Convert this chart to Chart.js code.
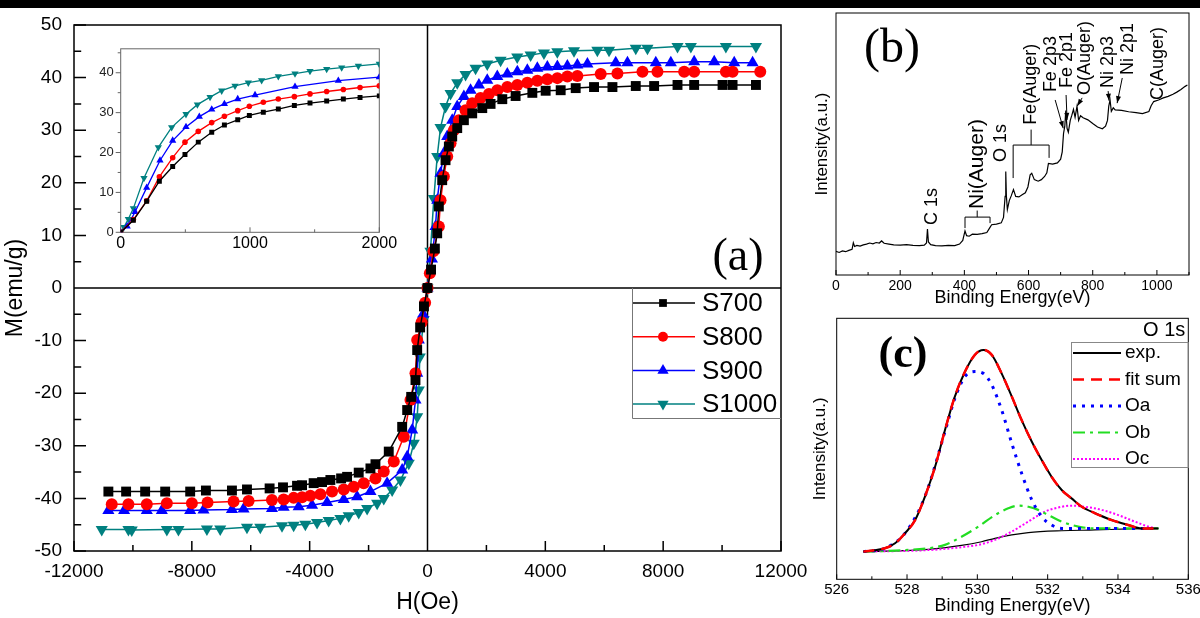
<!DOCTYPE html>
<html>
<head>
<meta charset="utf-8">
<title>Hysteresis loops and XPS spectra</title>
<script src="https://cdn.jsdelivr.net/npm/chart.js@4.4.1/dist/chart.umd.min.js"></script>
<style>
  html, body { margin: 0; padding: 0; background: #fff; width: 1200px; height: 618px; overflow: hidden; }
  canvas { position: absolute; }
  #topbar { position: absolute; left: 0; top: 0; width: 1200px; height: 8px; background: #000; }
</style>
</head>
<body>
<canvas id="loopChart" width="830" height="618" style="left:0;top:0"></canvas>
<canvas id="insetChart" width="330" height="222" style="left:90px;top:34px"></canvas>
<canvas id="surveyChart" width="420" height="310" style="left:795px;top:0"></canvas>
<canvas id="o1sChart" width="420" height="308" style="left:795px;top:310px"></canvas>
<div id="topbar"></div>
<script>
// ---- (a) M-H loops ----
const sampleNames = ['S700', 'S800', 'S900', 'S1000'];
const sampleColors = ['#000000', '#ff0000', '#0000ff', '#008080'];
const sampleMarkers = ['rect', 'circle', 'triangle', 'triangle'];
const markerTurn = [0, 0, 0, 180];

const s700H = [-10833, -10231, -9585, -8905, -8056, -7522, -6638, -6128, -5360, -4905, -4429, -4259, -3865, -3579, -3297, -2933, -2729, -2335, -1937, -1767, -1315, -860, -690, -554, -408, -350, -250, -120, 0, 120, 250, 329, 385, 499, 612, 725, 839, 1009, 1235, 1518, 1859, 2141, 2539, 2991, 3559, 4011, 4521, 5031, 5653, 6278, 7070, 7693, 8487, 9052, 10016, 10356, 11149];
const s700M = [-38.7, -38.7, -38.7, -38.7, -38.7, -38.5, -38.5, -38.3, -38.1, -37.9, -37.6, -37.5, -37.1, -36.9, -36.5, -36.2, -35.9, -35.1, -34.3, -33.5, -31.1, -26.4, -23.2, -20.7, -17.5, -11.8, -7.5, -3.5, 0, 3.5, 7.5, 10.4, 15.5, 20.5, 24.3, 26.9, 28.8, 30.4, 31.9, 33.2, 34.2, 35.0, 35.9, 36.5, 37.1, 37.5, 37.6, 38.0, 38.2, 38.2, 38.4, 38.4, 38.6, 38.6, 38.6, 38.6, 38.6];

const s800H = [-10718, -10153, -9529, -8848, -7998, -7467, -6583, -6073, -5280, -4884, -4544, -4260, -3977, -3637, -3240, -2844, -2505, -2165, -1767, -1485, -1145, -805, -578, -408, -350, -200, -80, 0, 80, 200, 385, 442, 555, 669, 782, 895, 1065, 1292, 1518, 1801, 2085, 2369, 2709, 3049, 3389, 3728, 4068, 4408, 4748, 5087, 5880, 6447, 7297, 7806, 8713, 9052, 10129, 10356, 11296];
const s800M = [-41.1, -41.1, -41.1, -40.9, -40.9, -40.8, -40.6, -40.5, -40.3, -40.2, -39.9, -39.8, -39.5, -39.2, -38.7, -38.3, -37.8, -37.1, -36.2, -34.9, -33.0, -28.3, -21.3, -16.2, -9.9, -6.5, -2.8, 0, 2.8, 7.0, 11.7, 16.7, 21.2, 25.0, 27.5, 30.0, 31.9, 33.8, 35.1, 36.1, 36.9, 37.6, 38.2, 38.6, 39.0, 39.4, 39.7, 39.9, 40.2, 40.3, 40.7, 40.8, 41.1, 41.1, 41.1, 41.1, 41.1, 41.1, 41.1];

const s900H = [-10833, -10299, -9529, -9018, -8056, -7604, -6638, -6244, -5280, -4884, -4374, -3919, -3409, -2844, -2390, -1937, -1370, -860, -690, -520, -408, -350, -295, -150, 0, 150, 272, 329, 442, 555, 669, 839, 1009, 1235, 1462, 1745, 2028, 2369, 2709, 3049, 3389, 3728, 4068, 4408, 4748, 5087, 5428, 6390, 6788, 7750, 8260, 9052, 9733, 10412, 11036];
const s900M = [-42.3, -42.3, -42.3, -42.3, -42.3, -42.2, -42.1, -42.0, -41.9, -41.7, -41.6, -41.3, -40.8, -40.2, -39.7, -38.7, -37.1, -34.6, -32.1, -27.0, -21.3, -16.2, -9.9, -5.0, 0, 5.5, 11.7, 16.7, 21.8, 25.6, 28.8, 31.9, 34.5, 36.4, 37.6, 38.6, 39.5, 40.2, 40.7, 41.1, 41.4, 41.8, 42.0, 42.1, 42.2, 42.4, 42.6, 42.8, 42.8, 42.8, 42.8, 43.0, 43.0, 42.8, 42.8];

const s1000H = [-11058, -10153, -10040, -8848, -8454, -7488, -7036, -6128, -5676, -4939, -4544, -4147, -3749, -3355, -2957, -2675, -2335, -2050, -1710, -1485, -1200, -918, -636, -466, -350, -295, -262, -130, 0, 100, 215, 329, 442, 612, 782, 1009, 1292, 1632, 2028, 2481, 3046, 3500, 3953, 4406, 4973, 5766, 6163, 7070, 7467, 8487, 8940, 10129, 11149];
const s1000M = [-45.9, -45.9, -46.0, -45.9, -45.9, -45.8, -45.8, -45.5, -45.5, -45.2, -45.1, -44.9, -44.6, -44.2, -43.8, -43.3, -42.7, -41.9, -40.9, -40.0, -38.4, -36.5, -33.3, -29.5, -24.5, -19.4, -13.1, -6.0, 0, 7.0, 17.0, 25.0, 30.5, 34.5, 37.0, 39.0, 40.6, 41.8, 42.6, 43.3, 43.9, 44.3, 44.7, 44.9, 45.1, 45.2, 45.2, 45.6, 45.6, 45.9, 45.9, 45.9, 45.9];

// inset: low-field part, 0..2000 Oe
const insetS700H = [0, 98, 201, 299, 402, 497, 600, 704, 802, 905, 995, 1103, 1219, 1343, 1464, 1593, 1722, 1851, 2000];
const insetS700M = [0, 3.0, 7.8, 12.8, 16.5, 19.5, 22.6, 25.1, 26.9, 28.2, 29.3, 30.1, 30.9, 31.8, 32.4, 32.9, 33.4, 33.8, 34.2];
const insetS800H = [0, 98, 201, 299, 402, 497, 600, 704, 802, 905, 995, 1103, 1219, 1343, 1464, 1593, 1722, 1851, 2000];
const insetS800M = [0, 3.2, 7.9, 13.9, 18.7, 22.6, 25.3, 27.5, 29.1, 30.5, 31.6, 32.6, 33.4, 34.0, 34.7, 35.3, 35.8, 36.3, 36.7];
const insetS900H = [0, 50, 111, 201, 304, 402, 505, 608, 704, 802, 905, 1039, 1348, 1683, 2000];
const insetS900M = [0, 1.5, 5.1, 11.2, 18.0, 23.0, 26.4, 29.0, 30.8, 32.2, 33.4, 34.4, 36.5, 38.0, 38.9];
const insetS1000H = [0, 25, 59, 98, 180, 291, 394, 505, 593, 691, 781, 884, 987, 1090, 1219, 1348, 1464, 1593, 1709, 1838, 2000];
const insetS1000M = [0, 1.3, 3.3, 6.0, 13.6, 21.3, 26.3, 29.6, 32.0, 33.9, 35.5, 36.7, 37.5, 38.1, 39.1, 39.8, 40.4, 40.9, 41.3, 41.7, 42.2];

// ---- (b) XPS survey ----
const surveyEV = [0, 10, 20, 30, 40, 50, 54, 58, 65, 75, 85, 95, 105, 115, 125, 135, 142, 150, 165, 180, 200, 220, 240, 260, 275, 282, 285, 288, 295, 310, 330, 350, 370, 385, 395, 402, 407, 415, 425, 440, 455, 470, 478, 485, 500, 515, 522, 527, 529, 531, 534, 540, 546, 553, 560, 570, 580, 590, 598, 605, 610, 618, 630, 640, 650, 657, 662, 675, 690, 700, 705, 709, 713, 716, 720, 724, 730, 735, 740, 745, 751, 756, 762, 770, 785, 800, 815, 830, 840, 846, 850, 854, 858, 864, 870, 890, 912, 935, 955, 975, 982, 990, 1005, 1020, 1035, 1050, 1062, 1075, 1088, 1095];
const surveyCounts = [9.0, 8.6, 9.2, 8.9, 9.4, 9.8, 12.3, 10.9, 11.3, 11.0, 11.5, 11.8, 12.2, 11.9, 12.4, 12.2, 13.0, 12.1, 11.8, 11.5, 11.4, 11.6, 11.3, 11.2, 11.4, 12.2, 17.5, 12.6, 11.6, 11.2, 11.1, 11.3, 11.2, 11.8, 13.2, 16.8, 15.0, 14.8, 15.6, 15.5, 15.8, 16.2, 17.8, 19.2, 19.4, 19.9, 22.0, 30.0, 39.5, 30.0, 25.0, 28.4, 30.2, 32.6, 30.0, 29.8, 30.6, 31.4, 33.6, 38.2, 38.8, 36.4, 35.8, 36.4, 37.6, 39.0, 42.6, 42.3, 42.8, 44.2, 47.0, 54.0, 56.8, 62.8, 56.0, 54.5, 59.0, 61.0, 63.2, 60.2, 64.4, 59.0, 60.8, 60.0, 59.2, 57.8, 56.5, 55.8, 56.8, 59.0, 64.5, 66.8, 62.5, 63.8, 63.0, 62.8, 62.3, 62.0, 61.6, 62.4, 64.6, 66.2, 66.8, 67.6, 68.2, 69.0, 69.8, 70.8, 72.0, 72.5];

const peakNames = ['C 1s', 'Ni(Auger)', 'O 1s', 'Fe(Auger)', 'Fe 2p3', 'Fe 2p1', 'O(Auger)', 'Ni 2p3', 'Ni 2p1', 'C(Auger)'];
const peakNameEV = [299, 440, 514, 608, 670, 720, 776, 848, 910, 1004];
const peakNameBase = [19.1, 25.2, 43.1, 57.3, 69.8, 71.4, 68.7, 71.4, 76.3, 66.8];
const arrowFromEV = [683, 717, 767, 848, 892];
const arrowFromI = [66.8, 68.7, 67.6, 70.2, 75.2];
const arrowToEV = [708, 720, 752, 851, 876];
const arrowToI = [56.0, 59.2, 64.5, 66.5, 65.6];
const augerFromEV = [402, 552];
const augerToEV = [480, 664];
const augerBar = [22.1, 49.6];
const augerLeftFoot = [17.9, 37.0];
const augerRightFoot = [19.8, 44.7];
const augerStemEV = [440, 608];
const augerStemTop = [24.6, 55.5];

// ---- (c) O 1s fit ----
const o1sNames = ['exp.', 'fit sum', 'Oa', 'Ob', 'Oc'];
const expEV = [526.76, 527.37, 527.66, 527.94, 528.23, 528.51, 528.80, 529.08, 529.36, 529.65, 529.93, 530.17, 530.41, 530.69, 530.98, 531.26, 531.55, 531.83, 532.11, 532.40, 532.68, 532.97, 533.35, 533.82, 534.29, 534.67, 535.15];
const expI = [10.6, 11.9, 13.8, 17.6, 22.7, 31.7, 43.2, 57.2, 70.0, 79.6, 86.0, 87.9, 86.0, 78.9, 70.0, 61.0, 52.7, 45.7, 39.3, 34.2, 31.0, 27.8, 25.3, 22.7, 20.8, 19.5, 19.5];
const fitI = [10.6, 11.9, 13.8, 17.6, 22.7, 31.7, 43.2, 57.2, 70.0, 79.6, 86.0, 87.9, 86.0, 78.9, 70.0, 61.0, 52.7, 45.7, 39.3, 34.2, 31.0, 27.8, 25.3, 22.7, 20.8, 19.5, 19.5];
const oaEV = [526.76, 527.37, 527.94, 528.51, 529.08, 529.36, 529.65, 529.93, 530.17, 530.41, 530.69, 530.98, 531.26, 531.55, 531.83, 532.11, 532.40, 532.87, 533.82, 535.15];
const oaI = [10.6, 11.9, 17.6, 31.7, 56.6, 69.3, 77.7, 79.6, 78.9, 74.5, 64.9, 52.1, 40.6, 30.4, 24.0, 20.8, 19.5, 19.5, 19.5, 19.5];
const obEV = [526.76, 527.66, 528.61, 529.08, 529.55, 530.03, 530.50, 530.88, 531.17, 531.45, 531.73, 532.02, 532.40, 532.87, 533.35, 535.15];
const obI = [10.6, 11.0, 11.9, 13.2, 16.3, 20.2, 24.6, 27.2, 28.2, 27.8, 26.6, 24.6, 22.1, 20.2, 19.5, 19.5];
const ocEV = [526.76, 528.61, 529.55, 530.03, 530.50, 530.98, 531.45, 531.92, 532.40, 532.68, 533.06, 533.54, 534.01, 534.48, 534.86, 535.15];
const ocI = [10.6, 11.2, 12.3, 13.2, 15.1, 18.3, 22.1, 25.9, 27.8, 28.2, 27.8, 26.6, 24.6, 22.1, 20.2, 19.5];
const bgEV = [526.76, 528.61, 529.55, 530.12, 530.50, 530.98, 531.45, 532.40, 533.35, 534.29, 535.15];
const bgI = [10.6, 11.5, 13.0, 14.4, 15.7, 17.0, 17.9, 18.6, 18.9, 19.3, 19.5];

const SANS = "'Liberation Sans', Arial, Helvetica, sans-serif";
const SERIF = "'Liberation Serif', 'Times New Roman', serif";
Chart.defaults.font.family = SANS;
Chart.defaults.color = '#000';

function pts(xs, ys) {
    return xs.map((x, i) => ({ x: x, y: ys[i] }));
}
const plain = v => String(v);

function marker(ctx, style, radius, rotation, x, y) {
    if (Chart.helpers && Chart.helpers.drawPoint) {
        Chart.helpers.drawPoint(ctx, { pointStyle: style, radius: radius, rotation: rotation, borderWidth: 0 }, x, y);
    } else {
        ctx.beginPath();
        ctx.arc(x, y, radius, 0, Math.PI * 2);
        ctx.fill();
    }
}

// box + inward/outward tick marks + optional zero lines, drawn under the data
const framePlugin = {
    id: 'frame',
    beforeDatasetsDraw(chart, args, o) {
        const { ctx, chartArea: a } = chart;
        const xs = chart.scales.x, ys = chart.scales.y;
        ctx.save();
        ctx.strokeStyle = o.color;
        ctx.lineWidth = o.lineWidth;
        ctx.beginPath();
        if (o.zeroLines) {
            const x0 = xs.getPixelForValue(0), y0 = ys.getPixelForValue(0);
            ctx.moveTo(a.left, y0); ctx.lineTo(a.right, y0);
            ctx.moveTo(x0, a.top); ctx.lineTo(x0, a.bottom);
        }
        const marks = (scale, t, horizontal) => {
            const n = Math.round((scale.max - scale.min) / t.minor);
            for (let i = 0; i <= n; i++) {
                const v = scale.min + i * t.minor;
                const isMajor = Math.abs(v / t.major - Math.round(v / t.major)) < 1e-6;
                const len = isMajor ? t.len : t.len * 0.6;
                const p = scale.getPixelForValue(v);
                if (horizontal) { ctx.moveTo(p, a.bottom); ctx.lineTo(p, a.bottom - len * t.dir); }
                else { ctx.moveTo(a.left, p); ctx.lineTo(a.left + len * t.dir, p); }
            }
        };
        if (o.x) marks(xs, o.x, true);
        if (o.y) marks(ys, o.y, false);
        ctx.stroke();
        ctx.strokeRect(a.left, a.top, a.right - a.left, a.bottom - a.top);
        ctx.restore();
    }
};

const baseOptions = {
    responsive: false,
    animation: false,
    events: [],
};

function xScale(min, max, step, tickFont, pad, title, titleFont, titlePad, height) {
    return {
        type: 'linear', min: min, max: max,
        grid: { display: false, drawTicks: false },
        border: { display: false },
        ticks: { stepSize: step, includeBounds: false, autoSkip: false, maxRotation: 0, padding: pad, font: { size: tickFont }, callback: plain },
        title: { display: !!title, text: title, font: { size: titleFont }, padding: { top: 0, bottom: titlePad } },
        afterFit: s => { s.height = height; }
    };
}

// ---------- (a) main loop ----------
const loopH = [s700H, s800H, s900H, s1000H];
const loopM = [s700M, s800M, s900M, s1000M];
const loopRadius = [7, 6, 7, 7];

const loopLegend = {
    id: 'loopLegend',
    afterDraw(chart) {
        const ctx = chart.ctx, a = chart.chartArea;
        const left = 632, top = 288, bottom = 418;
        ctx.save();
        ctx.strokeStyle = '#777';
        ctx.lineWidth = 1;
        ctx.beginPath();
        ctx.moveTo(left + 0.5, top); ctx.lineTo(left + 0.5, bottom + 0.5); ctx.lineTo(a.right, bottom + 0.5);
        ctx.stroke();
        chart.data.datasets.forEach((ds, i) => {
            const y = 303 + i * 33.7;
            ctx.strokeStyle = ds.borderColor;
            ctx.lineWidth = 1.5;
            ctx.beginPath(); ctx.moveTo(left + 1, y); ctx.lineTo(left + 63, y); ctx.stroke();
            ctx.fillStyle = ds.borderColor;
            marker(ctx, ds.pointStyle, [5.5, 5, 6.5, 6.5][i], ds.pointRotation, left + 31, y);
            ctx.fillStyle = '#000';
            ctx.font = '26px ' + SANS;
            ctx.textAlign = 'left';
            ctx.textBaseline = 'middle';
            ctx.fillText(ds.label, 702, y + 1);
        });
        ctx.font = '46px ' + SERIF;
        ctx.textAlign = 'center';
        ctx.fillText('(a)', 738, 258);
        ctx.restore();
    }
};

new Chart(document.getElementById('loopChart'), {
    type: 'scatter',
    data: {
        datasets: sampleNames.map((name, i) => ({
            label: name,
            data: pts(loopH[i], loopM[i]),
            showLine: true,
            borderColor: sampleColors[i],
            backgroundColor: sampleColors[i],
            borderWidth: 1.5,
            pointStyle: sampleMarkers[i],
            pointRotation: markerTurn[i],
            pointRadius: loopRadius[i],
            pointBorderWidth: 0,
            tension: 0
        }))
    },
    options: Object.assign({}, baseOptions, {
        layout: { padding: { left: 0, right: 49, top: 25, bottom: 0 } },
        plugins: {
            legend: { display: false }, tooltip: { enabled: false },
            frame: { color: '#000', lineWidth: 1.5, zeroLines: true,
                x: { minor: 2000, major: 4000, len: 10, dir: 1 },
                y: { minor: 5, major: 10, len: 12, dir: 1 } }
        },
        scales: {
            x: xScale(-12000, 12000, 4000, 19, 9, 'H(Oe)', 23, 2, 67),
            y: {
                type: 'linear', min: -50, max: 50,
                grid: { display: false, drawTicks: false },
                border: { display: false },
                ticks: { stepSize: 10, padding: 12, font: { size: 19 }, callback: plain },
                title: { display: true, text: 'M(emu/g)', font: { size: 23 }, padding: { top: 2, bottom: 0 } },
                afterFit: s => { s.width = 74; }
            }
        }
    }),
    plugins: [framePlugin, loopLegend]
});

// ---------- inset ----------
const insetH = [insetS700H, insetS800H, insetS900H, insetS1000H];
const insetM = [insetS700M, insetS800M, insetS900M, insetS1000M];
const insetRadius = [3.5, 2.8, 4.2, 4.2];

new Chart(document.getElementById('insetChart'), {
    type: 'scatter',
    data: {
        datasets: sampleNames.map((name, i) => ({
            label: name,
            data: pts(insetH[i], insetM[i]),
            showLine: true,
            borderColor: sampleColors[i],
            backgroundColor: sampleColors[i],
            borderWidth: 1.3,
            pointStyle: sampleMarkers[i],
            pointRotation: markerTurn[i],
            pointRadius: insetRadius[i],
            pointBorderWidth: 0,
            tension: 0
        }))
    },
    options: Object.assign({}, baseOptions, {
        layout: { padding: { left: 0, right: 40.7, top: 10, bottom: 0 } },
        plugins: {
            legend: { display: false }, tooltip: { enabled: false },
            frame: { color: '#666', lineWidth: 1,
                x: { minor: 500, major: 1000, len: 5, dir: 1 },
                y: { minor: 5, major: 10, len: 5, dir: -1 } }
        },
        scales: {
            x: xScale(0, 2000, 1000, 16, 2, '', 10, 0, 23.7),
            y: {
                type: 'linear', min: 0, max: 46,
                grid: { display: false, drawTicks: false },
                border: { display: false },
                ticks: { stepSize: 10, includeBounds: false, padding: 7, color: '#222', font: { size: 13 }, callback: plain },
                afterFit: s => { s.width = 30.7; }
            }
        }
    }),
    plugins: [framePlugin]
});

// ---------- (b) survey ----------
const surveyNotes = {
    id: 'surveyNotes',
    afterDatasetsDraw(chart) {
        const ctx = chart.ctx;
        const xs = chart.scales.x, ys = chart.scales.y;
        const X = v => xs.getPixelForValue(v), Y = v => ys.getPixelForValue(v);
        ctx.save();
        ctx.fillStyle = '#000';
        ctx.strokeStyle = '#000';
        ctx.lineWidth = 1;
        peakNames.forEach((name, i) => {
            ctx.save();
            ctx.translate(X(peakNameEV[i]), Y(peakNameBase[i]));
            ctx.rotate(-Math.PI / 2);
            ctx.font = (name === 'Ni(Auger)' ? 21 : 18) + 'px ' + SANS;
            ctx.textAlign = 'left';
            ctx.textBaseline = 'middle';
            ctx.fillText(name, 0, 0);
            ctx.restore();
        });
        arrowFromEV.forEach((e, i) => {
            const x1 = X(e), y1 = Y(arrowFromI[i]);
            const x2 = X(arrowToEV[i]), y2 = Y(arrowToI[i]);
            const ang = Math.atan2(y2 - y1, x2 - x1);
            ctx.beginPath(); ctx.moveTo(x1, y1); ctx.lineTo(x2, y2); ctx.stroke();
            ctx.beginPath();
            ctx.moveTo(x2, y2);
            ctx.lineTo(x2 - 7 * Math.cos(ang) + 2.5 * Math.sin(ang), y2 - 7 * Math.sin(ang) - 2.5 * Math.cos(ang));
            ctx.lineTo(x2 - 7 * Math.cos(ang) - 2.5 * Math.sin(ang), y2 - 7 * Math.sin(ang) + 2.5 * Math.cos(ang));
            ctx.closePath(); ctx.fill();
        });
        augerFromEV.forEach((e, i) => {
            ctx.beginPath();
            ctx.moveTo(X(e), Y(augerLeftFoot[i]));
            ctx.lineTo(X(e), Y(augerBar[i]));
            ctx.lineTo(X(augerToEV[i]), Y(augerBar[i]));
            ctx.lineTo(X(augerToEV[i]), Y(augerRightFoot[i]));
            ctx.moveTo(X(augerStemEV[i]), Y(augerBar[i]));
            ctx.lineTo(X(augerStemEV[i]), Y(augerStemTop[i]));
            ctx.stroke();
        });
        ctx.font = '48px ' + SERIF;
        ctx.textAlign = 'center';
        ctx.textBaseline = 'middle';
        ctx.fillText('(b)', 97, 49);
        ctx.restore();
    }
};

new Chart(document.getElementById('surveyChart'), {
    type: 'scatter',
    data: {
        datasets: [{
            label: 'survey',
            data: pts(surveyEV, surveyCounts),
            showLine: true,
            borderColor: '#000',
            borderWidth: 1.2,
            pointRadius: 0,
            tension: 0
        }]
    },
    options: Object.assign({}, baseOptions, {
        layout: { padding: { left: 0, right: 26, top: 13, bottom: 0 } },
        plugins: {
            legend: { display: false }, tooltip: { enabled: false },
            frame: { color: '#000', lineWidth: 1,
                x: { minor: 100, major: 200, len: 5, dir: 1 } }
        },
        scales: {
            x: xScale(0, 1100, 200, 14, 3, 'Binding Energy(eV)', 18, 1, 35),
            y: {
                type: 'linear', min: 0, max: 100,
                grid: { display: false, drawTicks: false },
                border: { display: false },
                ticks: { display: false },
                title: { display: true, text: 'Intensity(a.u.)', font: { size: 17 }, padding: { top: 17, bottom: 0 } },
                afterFit: s => { s.width = 41; }
            }
        }
    }),
    plugins: [framePlugin, surveyNotes]
});

// ---------- (c) O 1s ----------
const o1sLegend = {
    id: 'o1sLegend',
    afterDraw(chart) {
        const ctx = chart.ctx, a = chart.chartArea;
        const left = 276, top = 32, bottom = 157;
        const ds = chart.data.datasets;
        const entries = [ds[1], ds[0], ds[2], ds[3], ds[4]];
        ctx.save();
        ctx.strokeStyle = '#888';
        ctx.lineWidth = 1;
        ctx.strokeRect(left + 0.5, top + 0.5, a.right - left - 0.5, bottom - top);
        entries.forEach((d, i) => {
            const y = 43 + i * 26.5;
            ctx.strokeStyle = d.borderColor;
            ctx.lineWidth = d.borderWidth;
            ctx.setLineDash(d.borderDash || []);
            ctx.beginPath(); ctx.moveTo(left + 2, y); ctx.lineTo(left + 50, y); ctx.stroke();
            ctx.setLineDash([]);
            ctx.fillStyle = '#000';
            ctx.font = '19px ' + SANS;
            ctx.textAlign = 'left';
            ctx.textBaseline = 'middle';
            ctx.fillText(o1sNames[i], left + 54, y);
        });
        ctx.font = '20px ' + SANS;
        ctx.textAlign = 'right';
        ctx.fillText('O 1s', a.right - 3, a.top + 12);
        ctx.font = 'bold 44px ' + SERIF;
        ctx.textAlign = 'center';
        ctx.fillText('(c)', 108, 46);
        ctx.restore();
    }
};

function curve(label, xs, ys, color, width, dash) {
    return {
        label: label,
        data: pts(xs, ys),
        showLine: true,
        borderColor: color,
        borderWidth: width,
        borderDash: dash,
        pointRadius: 0,
        tension: 0.4,
        cubicInterpolationMode: 'monotone'
    };
}

new Chart(document.getElementById('o1sChart'), {
    type: 'scatter',
    data: {
        datasets: [
            curve('fit sum', expEV, fitI, '#ff0000', 2.5, [11, 7]),
            curve('exp.', expEV, expI, '#000000', 2, []),
            curve('Oa', oaEV, oaI, '#0000ff', 3, [3, 6]),
            curve('Ob', obEV, obI, '#22dd22', 2.2, [12, 5, 3, 5]),
            curve('Oc', ocEV, ocI, '#ff00ff', 2, [2, 2]),
            curve('background', bgEV, bgI, '#000000', 1.2, [])
        ]
    },
    options: Object.assign({}, baseOptions, {
        layout: { padding: { left: 0, right: 26.7, top: 8.3, bottom: 0 } },
        plugins: {
            legend: { display: false }, tooltip: { enabled: false },
            frame: { color: '#000', lineWidth: 1,
                x: { minor: 1, major: 2, len: 5, dir: 1 } }
        },
        scales: {
            x: xScale(526, 536, 2, 15, 2, 'Binding Energy(eV)', 18, 1, 38.7),
            y: {
                type: 'linear', min: 0, max: 100,
                grid: { display: false, drawTicks: false },
                border: { display: false },
                ticks: { display: false },
                title: { display: true, text: 'Intensity(a.u.)', font: { size: 17 }, padding: { top: 15, bottom: 0 } },
                afterFit: s => { s.width = 41.7; }
            }
        }
    }),
    plugins: [framePlugin, o1sLegend]
});
</script>
</body>
</html>
